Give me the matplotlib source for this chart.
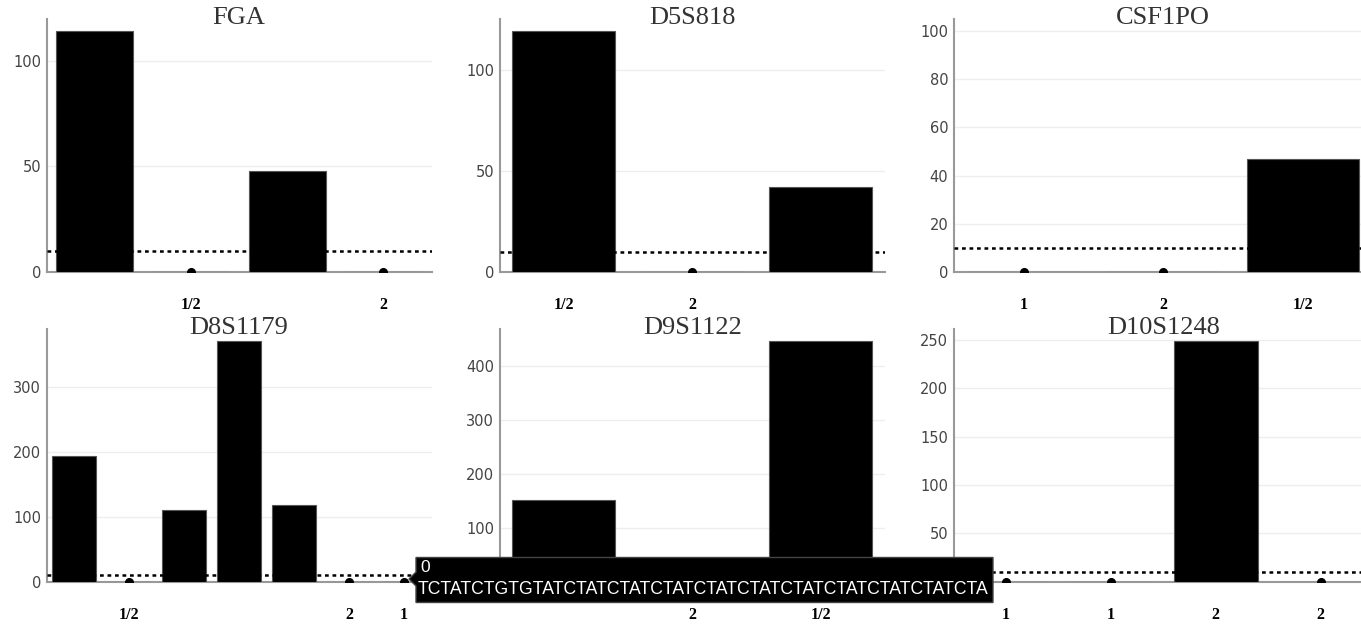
import matplotlib
matplotlib.use('Agg')
import matplotlib.pyplot as plt
from matplotlib.patches import Polygon
from matplotlib.ticker import MultipleLocator

# data
titles = ['FGA', 'D5S818', 'CSF1PO', 'D8S1179', 'D9S1122', 'D10S1248']

fga_labels = ['', '1/2', '', '2']
fga_reads = [114, 0, 48, 0]

d5_labels = ['1/2', '2', '']
d5_reads = [119, 0, 42]

csf_labels = ['1', '2', '1/2']
csf_reads = [0, 0, 47]

d8_labels = ['', '1/2', '', '', '', '2', '1']
d8_reads = [193, 0, 110, 370, 118, 0, 0]

d9_labels = ['', '2', '1/2']
d9_reads = [152, 0, 446]

d10_labels = ['1', '1', '2', '2']
d10_reads = [0, 0, 249, 0]

threshold = 10
tip_count = '0'
tip_seq = 'TCTATCTGTGTATCTATCTATCTATCTATCTATCTATCTATCTATCTATCTA'

# (title, labels, reads, y step, zero label hidden under the tooltip)
panels = [
    (titles[0], fga_labels, fga_reads, 50, False),
    (titles[1], d5_labels, d5_reads, 50, False),
    (titles[2], csf_labels, csf_reads, 20, False),
    (titles[3], d8_labels, d8_reads, 100, False),
    (titles[4], d9_labels, d9_reads, 100, True),
    (titles[5], d10_labels, d10_reads, 50, True),
]

W, H = 1361, 624
# axes boxes in pixels
cols = [(46.5, 431.5), (499.5, 885), (953.7, 1373)]
rows = [(19, 272), (329, 581.7)]

fig = plt.figure(figsize=(W / 100, H / 100), dpi=100)

for k, (title, labels, reads, step, hide0) in enumerate(panels):
    x0, x1 = cols[k % 3]
    y0, y1 = rows[k // 3]
    ax = fig.add_axes([x0 / W, 1 - y1 / H, (x1 - x0) / W, (y1 - y0) / H])
    n = len(reads)
    xs = list(range(n))
    ax.bar(xs, reads, width=0.8, color='black', edgecolor='#555555', linewidth=0.8, zorder=3)
    zx = [x for x, v in zip(xs, reads) if v == 0]
    ax.plot(zx, [0] * len(zx), 'o', color='black', markersize=5.5, zorder=4)
    ax.axhline(threshold, color='black', linestyle=(0, (1.5, 1.5)), linewidth=1.8, zorder=5)
    ax.set_xlim(-0.5, n - 0.5)
    top = max(max(reads), 100) * 1.05
    ax.set_ylim(0, top)
    ax.yaxis.set_major_locator(MultipleLocator(step))
    if hide0:
        yt = [t for t in ax.get_yticks() if 0 < t <= top]
        ax.set_yticks(yt)
        ax.set_ylim(0, top)
    ax.grid(axis='y', color='#eeeeee', linewidth=1, zorder=0)
    ax.set_xticks(xs)
    ax.set_xticklabels(labels, family='Liberation Serif', fontweight='bold', fontsize=11.5)
    ax.tick_params(axis='x', length=0, pad=18)
    ax.tick_params(axis='y', length=0, pad=4, labelsize=10.5, labelcolor='#444444')
    for s in ['top', 'right']:
        ax.spines[s].set_visible(False)
    for s in ['left', 'bottom']:
        ax.spines[s].set_color('#999999')
        ax.spines[s].set_linewidth(1.5)
        ax.spines[s].set_zorder(2)
    fig.text((x0 + x1) / 2 / W, 1 - (y0 - 1) / H, title,
             ha='center', va='center', family='Liberation Serif', fontsize=19, color='#333333')

# hover tooltip
def px(x, y):
    return (x / W, 1 - y / H)

box = [px(409, 579), px(416, 572), px(416, 557.5), px(993, 557.5), px(993, 602.5),
       px(416, 602.5), px(416, 586)]
fig.patches.append(Polygon(box, closed=True, transform=fig.transFigure,
                           facecolor='black', edgecolor='#444444', linewidth=1, zorder=10))
fig.text(*px(420, 568), tip_count, ha='left', va='center', color='white',
         family='Liberation Sans', fontsize=12.5, zorder=11)
fig.text(*px(418, 590), tip_seq, ha='left', va='center', color='white',
         family='Liberation Sans', fontsize=12.7, zorder=11)

fig.savefig('out.png', dpi=100, facecolor='white')
